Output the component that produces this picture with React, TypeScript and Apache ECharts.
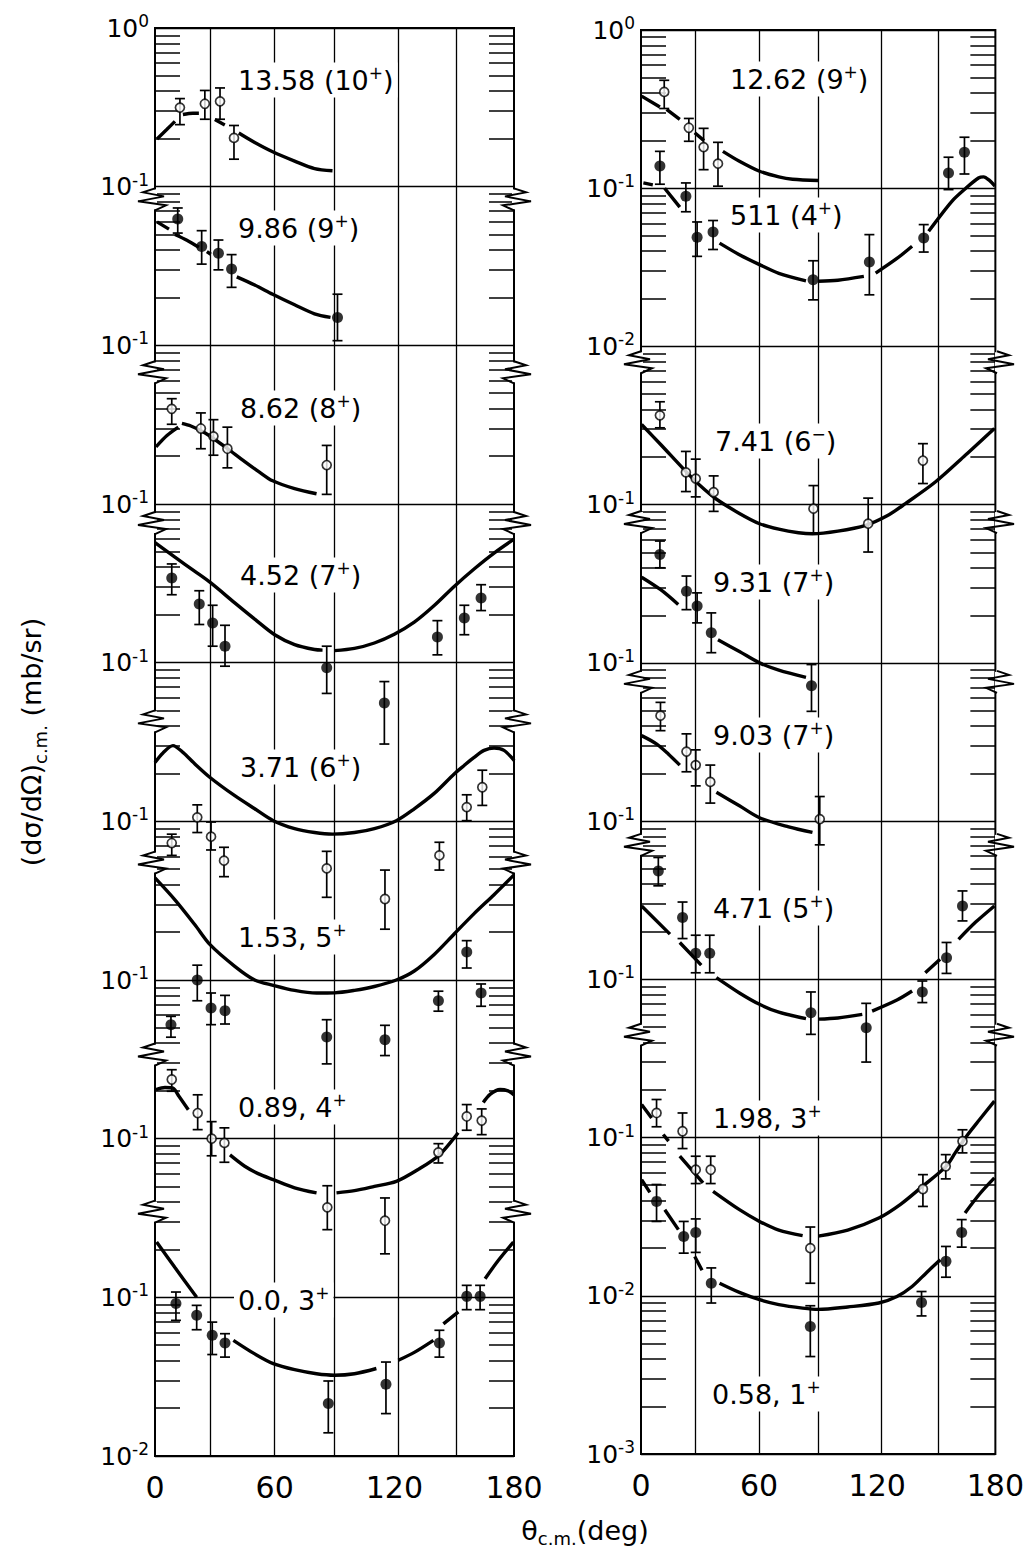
import React, { useEffect, useRef } from "react";
import * as echarts from "echarts";

const FONT = "DejaVu Sans";

// ---------- axes ----------
const xTicks = [0, 60, 120, 180];
const verticalRules = [27.5, 60, 90, 122, 151];
// exponent shown at each decade line, top (10^0) to bottom (10^-9 of the shared scale)
const leftTickExponents = ["0", "-1", "-1", "-1", "-1", "-1", "-1", "-1", "-1", "-2"];
const rightTickExponents = ["0", "-1", "-2", "-1", "-1", "-1", "-1", "-1", "-2", "-3"];
// axis breaks, in decades of the shared scale
const leftBreaks = [-1.08, -2.17, -3.12, -4.37, -5.26, -6.47, -7.46];
const rightBreaks = [-2.1, -3.11, -4.12, -5.15, -6.35];

// ---------- data: [theta, value, errLow, errHigh] and fit curves [theta, value|null] ----------
// left panel
const pts1358 = [[12.5, 0.315, 0.246, 0.359], [25, 0.333, 0.266, 0.404], [32.6, 0.345, 0.266, 0.419], [39.6, 0.203, 0.149, 0.243]];
const fit1358 = [[1, 0.2], [6, 0.23], [10, 0.258], [12, null], [14, 0.285], [19, 0.29], [22, 0.29], [24, null], [30, 0.265], [35, 0.245], [38, null], [42, 0.218], [50, 0.19], [59, 0.166], [70, 0.145], [80, 0.13], [89, 0.126]];

const pts986 = [[11.4, 0.625, 0.51, 0.734], [23.4, 0.419, 0.325, 0.528], [31.8, 0.38, 0.299, 0.461], [38.4, 0.303, 0.232, 0.373], [91.5, 0.15, 0.107, 0.21]];
const fit986 = [[1, 0.6], [7, 0.54], [9, null], [10, 0.5], [16, 0.46], [22, 0.415], [24, null], [26, 0.39], [28, 0.375], [30, null], [41, 0.27], [50, 0.24], [59, 0.21], [70, 0.18], [80, 0.158], [88, 0.15]];

const pts862 = [[8.4, 0.398, 0.318, 0.461], [23, 0.299, 0.223, 0.375], [29.3, 0.267, 0.203, 0.34], [36.3, 0.223, 0.169, 0.305], [86.1, 0.176, 0.115, 0.234]];
const fit862 = [[0.5, 0.229], [6, 0.27], [11.7, 0.305], [12.5, null], [13.5, 0.322], [18, 0.31], [24, 0.285], [30, 0.255], [36, 0.225], [45, 0.185], [52, 0.16], [59, 0.14], [70, 0.125], [81, 0.116]];

const pts452 = [[8.4, 0.342, 0.268, 0.419], [22.2, 0.234, 0.174, 0.284], [28.9, 0.178, 0.127, 0.23], [35.1, 0.127, 0.095, 0.172], [86.1, 0.093, 0.064, 0.127], [115, 0.0557, 0.0307, 0.076], [141.6, 0.145, 0.112, 0.184], [155.1, 0.191, 0.15, 0.23], [163.5, 0.256, 0.213, 0.31]];
const fit452 = [[0, 0.57], [10, 0.462], [20, 0.376], [28, 0.318], [40, 0.238], [50, 0.188], [60, 0.15], [70, 0.13], [80, 0.121], [84, 0.12], [87, null], [90, 0.119], [100, 0.123], [110, 0.133], [120, 0.151], [130, 0.18], [140, 0.229], [150, 0.302], [160, 0.389], [170, 0.49], [180, 0.6]];

const pts371 = [[8.4, 0.073, 0.061, 0.083], [21.2, 0.106, 0.085, 0.127], [28.1, 0.08, 0.066, 0.099], [34.6, 0.0565, 0.0448, 0.0686], [86.1, 0.0505, 0.0332, 0.0647], [115.3, 0.0324, 0.0209, 0.0493], [142.6, 0.061, 0.0493, 0.0738], [156.3, 0.123, 0.101, 0.147], [164.1, 0.164, 0.126, 0.21]];
const fit371 = [[0, 0.235], [4, 0.27], [9, 0.3], [14, 0.272], [20, 0.23], [27.6, 0.189], [40, 0.145], [50, 0.12], [59.3, 0.101], [70, 0.09], [80, 0.085], [89, 0.083], [100, 0.085], [110, 0.09], [121, 0.101], [130, 0.12], [140, 0.15], [150, 0.199], [155, 0.225], [160, 0.253], [165, 0.28], [170, 0.29], [175, 0.28], [180, 0.242]];

const pts153 = [[8, 0.0523, 0.0436, 0.059], [21.2, 0.1, 0.074, 0.124], [28.1, 0.0667, 0.0523, 0.0828], [35.1, 0.0641, 0.0528, 0.08], [86.1, 0.0437, 0.0296, 0.0562], [115.3, 0.042, 0.0334, 0.0518], [142.1, 0.074, 0.0636, 0.085], [156.3, 0.15, 0.119, 0.177], [163.5, 0.0828, 0.0683, 0.0944]];
const fit153 = [[0, 0.44], [10, 0.32], [20, 0.223], [27.6, 0.167], [40, 0.122], [50, 0.1], [59.3, 0.0926], [70, 0.086], [81, 0.0828], [90, 0.083], [100, 0.086], [110, 0.091], [121, 0.1], [130, 0.114], [140, 0.145], [150, 0.195], [160, 0.262], [170, 0.345], [180, 0.46]];

const pts089 = [[8.4, 0.236, 0.199, 0.272], [21.4, 0.145, 0.114, 0.189], [28.4, 0.1, 0.078, 0.128], [34.8, 0.094, 0.071, 0.117], [86.4, 0.0369, 0.0267, 0.0505], [115.3, 0.0304, 0.0188, 0.0423], [142.1, 0.082, 0.0703, 0.093], [156.3, 0.138, 0.113, 0.164], [163.8, 0.13, 0.106, 0.154]];
const fit089 = [[0.5, 0.204], [5, 0.21], [9, 0.208], [12, 0.185], [16.7, 0.152], [18, null], [37.6, 0.079], [45, 0.067], [52, 0.06], [59.3, 0.0552], [70, 0.049], [81, 0.0455], [86, null], [91, 0.0455], [100, 0.047], [110, 0.05], [121, 0.0538], [132, 0.064], [142.6, 0.079], [152, 0.109], [158, null], [164.6, 0.169], [168, 0.19], [173, 0.204], [177, 0.2], [180, 0.189]];

const pts000 = [[10.5, 0.0913, 0.0716, 0.108], [20.9, 0.077, 0.0625, 0.089], [28.7, 0.0577, 0.0436, 0.0698], [35.1, 0.0515, 0.042, 0.059], [86.9, 0.0214, 0.014, 0.0297], [115.8, 0.0283, 0.0185, 0.0391], [142.6, 0.0515, 0.042, 0.062], [156.3, 0.1014, 0.0836, 0.119], [163, 0.1014, 0.0836, 0.119]];
const fit000 = [[0.8, 0.223], [10, 0.154], [20.9, 0.1], [23, null], [26, 0.083], [29, null], [32.6, 0.065], [36, null], [39.3, 0.0536], [50, 0.044], [59.3, 0.0382], [70, 0.035], [81, 0.033], [90, 0.0323], [100, 0.033], [111, 0.0356], [115, null], [122, 0.0401], [130, 0.045], [139.6, 0.0536], [141.5, null], [144.6, 0.068], [152.1, 0.081], [158, null], [165.5, 0.131], [172, 0.17], [179.7, 0.223]];

// right panel
const pts1262 = [[11.8, 0.406, 0.319, 0.481], [24.3, 0.241, 0.198, 0.276], [31.8, 0.182, 0.131, 0.239], [39.1, 0.143, 0.103, 0.195]];
const fit1262 = [[0.3, 0.382], [9.6, 0.326], [11, null], [13, 0.315], [19.7, 0.272], [23, null], [27.3, 0.224], [32, 0.2], [37, null], [41.6, 0.171], [50, 0.148], [60.2, 0.128], [70, 0.118], [77, 0.114], [90.1, 0.112]];

const pts511 = [[9.6, 0.138, 0.106, 0.171], [22.8, 0.089, 0.071, 0.108], [28.5, 0.049, 0.0371, 0.0612], [36.6, 0.0529, 0.041, 0.0625], [87.4, 0.0264, 0.0197, 0.0348], [116, 0.0342, 0.0212, 0.0509], [143.6, 0.0484, 0.0395, 0.0589], [156.2, 0.125, 0.098, 0.157], [164.3, 0.169, 0.123, 0.21]];
const fit511 = [[1.2, 0.108], [6, 0.105], [8, null], [12, 0.1], [19.7, 0.0759], [22, null], [39.9, 0.045], [50, 0.038], [60.2, 0.0329], [70, 0.029], [83.8, 0.026], [87, null], [90, 0.0258], [100, 0.0262], [113.2, 0.0277], [116, null], [119.2, 0.0291], [130, 0.036], [137.7, 0.043], [142, null], [146.1, 0.0534], [157.9, 0.0827], [165, 0.1], [171.4, 0.116], [174, 0.118], [177, 0.112], [179.8, 0.103]];

const pts741 = [[9.6, 0.367, 0.306, 0.447], [22.8, 0.16, 0.121, 0.217], [27.8, 0.146, 0.112, 0.194], [36.9, 0.12, 0.0907, 0.152], [87.6, 0.0944, 0.0655, 0.132], [115.4, 0.0758, 0.0502, 0.11], [143.2, 0.19, 0.136, 0.243]];
const fit741 = [[0.3, 0.321], [10, 0.24], [23, 0.161], [30, 0.132], [38, 0.109], [50, 0.088], [60.2, 0.0758], [70, 0.07], [80, 0.0665], [87.1, 0.0655], [100, 0.068], [114.1, 0.074], [125, 0.085], [134.3, 0.1015], [149.5, 0.139], [164.7, 0.205], [179.5, 0.303]];

const pts931 = [[9.6, 0.484, 0.399, 0.589], [23.1, 0.284, 0.217, 0.354], [28.5, 0.229, 0.179, 0.277], [35.7, 0.155, 0.116, 0.207], [86.6, 0.0718, 0.0494, 0.0976]];
const fit931 = [[0.3, 0.348], [10, 0.29], [18.9, 0.234], [21, null], [25, 0.205], [32, null], [39.1, 0.14], [50, 0.118], [60.2, 0.1], [70, 0.09], [83.8, 0.081]];

const pts903 = [[9.9, 0.464, 0.373, 0.563], [23.1, 0.275, 0.205, 0.356], [27.8, 0.226, 0.167, 0.282], [35.2, 0.177, 0.13, 0.226], [90.8, 0.103, 0.0708, 0.143]];
const fit903 = [[0.3, 0.347], [8, 0.307], [14, 0.265], [19.7, 0.226], [22, null], [38.3, 0.152], [50, 0.125], [60.2, 0.105], [75, 0.092], [87.1, 0.0848]];

const pts471 = [[8.8, 0.484, 0.39, 0.589], [21.1, 0.246, 0.181, 0.308], [27.8, 0.146, 0.11, 0.19], [34.9, 0.146, 0.11, 0.19], [86.3, 0.0615, 0.0449, 0.0832], [114.4, 0.0494, 0.03, 0.0705], [142.9, 0.0832, 0.0713, 0.0976], [155.2, 0.137, 0.109, 0.171], [163.3, 0.291, 0.234, 0.362]];
const fit471 = [[0.3, 0.291], [14.7, 0.193], [17, null], [19.7, 0.171], [30.6, 0.123], [34, null], [38.3, 0.1025], [50, 0.082], [60.2, 0.0695], [70, 0.062], [83.8, 0.0564], [87, null], [90, 0.056], [100, 0.057], [112.4, 0.06], [115, null], [117.4, 0.063], [130, 0.074], [137.7, 0.0844], [141, null], [144.4, 0.11], [151.9, 0.134], [156, null], [161.3, 0.179], [170, 0.23], [179.5, 0.291]];

const pts198 = [[7.9, 0.143, 0.117, 0.174], [21.1, 0.1096, 0.0852, 0.143], [27.8, 0.0626, 0.0512, 0.0762], [35.4, 0.0626, 0.0512, 0.0762], [86, 0.02, 0.012, 0.0272], [143.2, 0.0473, 0.0367, 0.0583], [154.8, 0.0658, 0.0548, 0.078], [163.3, 0.0948, 0.08, 0.112]];
const fit198 = [[0.3, 0.162], [5.4, 0.133], [8, null], [11.3, 0.1045], [14, 0.095], [16, null], [19.7, 0.0762], [31.5, 0.0517], [33, null], [36.6, 0.0457], [50, 0.035], [60.2, 0.0295], [70, 0.026], [82.1, 0.024], [86, null], [90, 0.0238], [105, 0.026], [120.8, 0.031], [132, 0.038], [143, 0.0492], [155, 0.0658], [159.6, 0.08], [166, 0.1045], [172, 0.13], [179.5, 0.17]];

const pts058 = [[7.9, 0.0395, 0.0295, 0.0505], [21.7, 0.0237, 0.0186, 0.0295], [27.8, 0.0251, 0.0188, 0.0306], [35.7, 0.012, 0.009, 0.015], [86, 0.0064, 0.00413, 0.00865], [142.5, 0.00908, 0.00746, 0.01064], [154.9, 0.0165, 0.0131, 0.0205], [162.9, 0.0251, 0.0203, 0.0303]];
const fit058 = [[0.3, 0.0542], [4.5, 0.045], [7, null], [12.1, 0.035], [19, 0.0262], [23, null], [27.3, 0.0177], [31, 0.0145], [34, null], [39.9, 0.012], [50, 0.0105], [60.2, 0.00944], [70, 0.0088], [82.1, 0.00836], [90, 0.0082], [105, 0.0085], [120.8, 0.009], [130, 0.0099], [137.7, 0.01145], [145, 0.014], [152, 0.0169], [154, null], [156.2, 0.0237], [159, null], [164.6, 0.0334], [172, 0.044], [179.5, 0.0556]];

// sets: panel, decade shift on the shared scale, marker style, label
const sets = [
  { panel: 0, shift: 0, filled: false, pts: pts1358, fit: fit1358, label: "13.58 (10{p|+})" },
  { panel: 0, shift: 1, filled: true, pts: pts986, fit: fit986, label: "9.86 (9{p|+})" },
  { panel: 0, shift: 2, filled: false, pts: pts862, fit: fit862, label: "8.62 (8{p|+})" },
  { panel: 0, shift: 3, filled: true, pts: pts452, fit: fit452, label: "4.52 (7{p|+})" },
  { panel: 0, shift: 4, filled: false, pts: pts371, fit: fit371, label: "3.71 (6{p|+})" },
  { panel: 0, shift: 5, filled: true, pts: pts153, fit: fit153, label: "1.53, 5{p|+}" },
  { panel: 0, shift: 6, filled: false, pts: pts089, fit: fit089, label: "0.89, 4{p|+}" },
  { panel: 0, shift: 7, filled: true, pts: pts000, fit: fit000, label: "0.0, 3{p|+}" },
  { panel: 1, shift: 0, filled: false, pts: pts1262, fit: fit1262, label: "12.62 (9{p|+})" },
  { panel: 1, shift: 0, filled: true, pts: pts511, fit: fit511, label: "511 (4{p|+})" },
  { panel: 1, shift: 2, filled: false, pts: pts741, fit: fit741, label: "7.41 (6{p|−})" },
  { panel: 1, shift: 3, filled: true, pts: pts931, fit: fit931, label: "9.31 (7{p|+})" },
  { panel: 1, shift: 4, filled: false, pts: pts903, fit: fit903, label: "9.03 (7{p|+})" },
  { panel: 1, shift: 5, filled: true, pts: pts471, fit: fit471, label: "4.71 (5{p|+})" },
  { panel: 1, shift: 6, filled: false, pts: pts198, fit: fit198, label: "1.98, 3{p|+}" },
  { panel: 1, shift: 6, filled: true, pts: pts058, fit: fit058, label: "0.58, 1{p|+}" },
];

// ---------- layout (pixels) ----------
const PANELS = [
  { left: 155, top: 28, width: 359, height: 1428 },
  { left: 641, top: 30, width: 356, height: 1424 },
];
const LABEL_POS = [
  [234, 80], [234, 228], [236, 408], [236, 575], [236, 767], [234, 937], [234, 1107], [234, 1300],
  [726, 79], [726, 215], [711, 441], [709, 582], [709, 735], [709, 908], [709, 1118], [708, 1394],
];

function baseAxis(gridIndex: number, position: string, exps: string[] | null, name?: string) {
  return {
    type: "log",
    logBase: 10,
    gridIndex,
    position,
    min: 1e-9,
    max: 1,
    splitNumber: 9,
    axisLine: { show: false },
    axisTick: { show: false, inside: true },
    minorTick: { show: true, splitNumber: 9, length: 25, lineStyle: { color: "#000", width: 1.5 } },
    minorSplitLine: { show: false },
    splitLine: { show: position === "left", lineStyle: { color: "#000", width: 1.4 } },
    axisLabel: exps
      ? {
          show: true,
          margin: 6,
          showMinLabel: true,
          showMaxLabel: true,
          formatter: (v: number) => {
            const i = Math.round(-Math.log10(v));
            const s = exps[i];
            return s == null ? "" : `{n|10}{e|${s}}`;
          },
          rich: {
            n: { fontSize: 25, fontFamily: FONT, color: "#000" },
            e: { fontSize: 17, fontFamily: FONT, color: "#000", padding: [0, 0, 14, 0] },
          },
        }
      : { show: false },
    name: name || "",
    nameLocation: "middle",
    nameGap: 106,
    nameRotate: 90,
    nameTextStyle: {
      fontSize: 27,
      fontFamily: FONT,
      color: "#000",
      rich: { s: { fontSize: 18, fontFamily: FONT, color: "#000", padding: [18, 0, 0, 0] } },
    },
  };
}

function errorBarRender(params: any, api: any) {
  const x = api.value(0);
  const a = api.coord([x, api.value(2)]);
  const b = api.coord([x, api.value(1)]);
  const w = 5;
  const st = { stroke: "#000", lineWidth: 1.7 };
  return {
    type: "group",
    children: [
      { type: "line", shape: { x1: a[0], y1: a[1], x2: b[0], y2: b[1] }, style: st },
      { type: "line", shape: { x1: a[0] - w, y1: a[1], x2: a[0] + w, y2: a[1] }, style: st },
      { type: "line", shape: { x1: b[0] - w, y1: b[1], x2: b[0] + w, y2: b[1] }, style: st },
    ],
  };
}

export default function App() {
  const ref = useRef<HTMLDivElement>(null);
  useEffect(() => {
    if (!ref.current) return;
    const chart = echarts.init(ref.current, null, { renderer: "svg" });

    const grid = PANELS.map((p) => ({ ...p, show: true, borderColor: "#000", borderWidth: 2, backgroundColor: "#fff" }));
    const xAxis = PANELS.map((_, g) => ({
      type: "value",
      gridIndex: g,
      min: xTicks[0],
      max: xTicks[xTicks.length - 1],
      interval: xTicks[1] - xTicks[0],
      axisLine: { show: false },
      axisTick: { show: false },
      splitLine: { show: false },
      axisLabel: { fontSize: 30, fontFamily: FONT, color: "#000", margin: 16 },
    }));
    const yAxis: any[] = [
      baseAxis(0, "left", leftTickExponents, "(dσ/dΩ){s|c.m.} (mb/sr)"),
      baseAxis(0, "right", null),
      baseAxis(1, "left", rightTickExponents),
      baseAxis(1, "right", null),
    ];
    const series: any[] = [];
    const ruled = [false, false];
    sets.forEach((s) => {
      const ai = yAxis.length;
      yAxis.push({
        type: "log",
        logBase: 10,
        gridIndex: s.panel,
        show: false,
        min: Number(`1e${s.shift - 9}`),
        max: Number(`1e${s.shift}`),
      });
      series.push({
        type: "line",
        xAxisIndex: s.panel,
        yAxisIndex: ai,
        data: s.fit.map(([x, y]) => [x, y == null ? "-" : y]),
        smooth: 0.3,
        showSymbol: false,
        symbol: "none",
        connectNulls: false,
        lineStyle: { color: "#000", width: 3.4 },
        z: 2,
        silent: true,
      });
      series.push({
        type: "custom",
        xAxisIndex: s.panel,
        yAxisIndex: ai,
        data: s.pts.map((p) => [p[0], p[2], p[3]]),
        encode: { x: 0, y: [1, 2] },
        renderItem: errorBarRender,
        z: 3,
        silent: true,
      });
      const sc: any = {
        type: "scatter",
        xAxisIndex: s.panel,
        yAxisIndex: ai,
        data: s.pts.map((p) => [p[0], p[1]]),
        symbol: "circle",
        symbolSize: s.filled ? 11 : 9,
        itemStyle: s.filled
          ? { color: "#000" }
          : { color: "#fff", borderColor: "#000", borderWidth: 1.7 },
        z: 4,
        silent: true,
      };
      if (!ruled[s.panel]) {
        ruled[s.panel] = true;
        sc.markLine = {
          silent: true,
          symbol: ["none", "none"],
          label: { show: false },
          lineStyle: { color: "#000", width: 1.3, type: "solid" },
          data: verticalRules.map((v) => ({ xAxis: v })),
        };
      }
      series.push(sc);
    });

    chart.setOption({
      animation: false,
      backgroundColor: "#fff",
      grid,
      xAxis,
      yAxis,
      series,
    });

    // graphic overlays: set labels, axis breaks, x-axis title
    const graphic: any[] = [];
    sets.forEach((s, i) => {
      const [x, y] = LABEL_POS[i];
      graphic.push({
        type: "text",
        x,
        y,
        z: 100,
        style: {
          text: s.label,
          fontSize: 27,
          fontFamily: FONT,
          fill: "#000",
          align: "left",
          verticalAlign: "middle",
          backgroundColor: "#fff",
          padding: [2, 4],
          rich: { p: { fontSize: 17, fontFamily: FONT, fill: "#000", padding: [0, 0, 14, 0] } },
        },
      });
    });
    // spring-like break mark; dx > 0 points outward from the frame
    const zigShape = [[0, -11], [12, -7], [-9, -3], [17, 2], [-11, 6], [0, 11]];
    const addBreaks = (breaks: number[], axisIdx: number, p: any) => {
      breaks.forEach((e) => {
        const y = chart.convertToPixel({ yAxisIndex: axisIdx } as any, Math.pow(10, e)) as unknown as number;
        [
          [p.left, -1],
          [p.left + p.width, 1],
        ].forEach(([x0, dir]) => {
          graphic.push({ type: "rect", z: 49, shape: { x: x0 - 2, y: y - 10, width: 4, height: 20 }, style: { fill: "#fff" } });
          graphic.push({
            type: "polyline",
            z: 50,
            shape: { points: zigShape.map(([dx, dy]) => [x0 + dir * dx, y + dy]) },
            style: { stroke: "#000", lineWidth: 2, fill: null },
          });
        });
      });
    };
    addBreaks(leftBreaks, 0, PANELS[0]);
    addBreaks(rightBreaks, 2, PANELS[1]);
    graphic.push({
      type: "text",
      x: 585,
      y: 1530,
      z: 100,
      style: {
        text: "θ{s|c.m.}(deg)",
        fontSize: 27,
        fontFamily: FONT,
        fill: "#000",
        align: "center",
        verticalAlign: "middle",
        rich: { s: { fontSize: 18, fontFamily: FONT, fill: "#000", padding: [16, 0, 0, 0] } },
      },
    });
    chart.setOption({ graphic });

    return () => chart.dispose();
  }, []);
  return (
    <div
      ref={ref}
      style={{ position: "absolute", left: 0, top: 0, width: 1027, height: 1550, background: "#fff" }}
    />
  );
}
